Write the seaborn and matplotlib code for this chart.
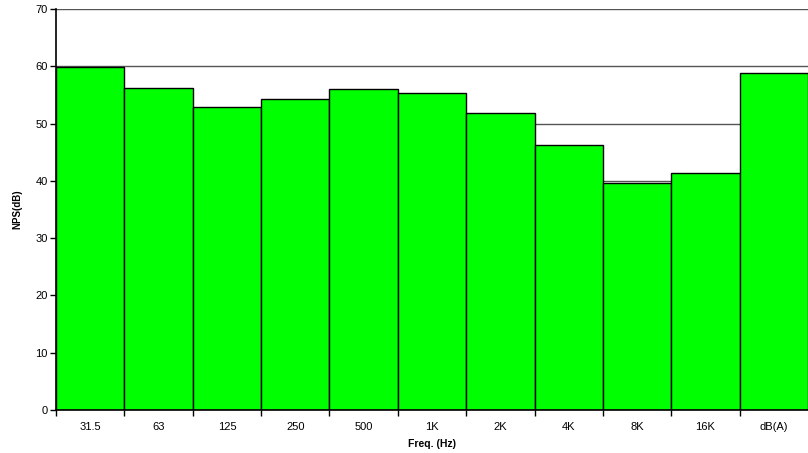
import numpy as np
import pandas as pd
import matplotlib
matplotlib.use("Agg")
import matplotlib.pyplot as plt
import seaborn as sns

# data
bands = ["31.5", "63", "125", "250", "500", "1K", "2K", "4K", "8K", "16K", "dB(A)"]
nps = [59.8, 56.2, 52.9, 54.3, 56.1, 55.4, 51.9, 46.2, 39.7, 41.3, 58.9]

sns.set_style("white")
plt.rcParams["font.family"] = ["Liberation Sans", "DejaVu Sans"]
plt.rcParams["text.color"] = "black"
plt.rcParams["axes.labelcolor"] = "black"
plt.rcParams["xtick.color"] = "black"
plt.rcParams["ytick.color"] = "black"

df = pd.DataFrame({"band": bands, "nps": nps})

fig = plt.figure(figsize=(8.08, 4.53), dpi=100)
ax = fig.add_axes([56 / 808, 43 / 453, 752 / 808, 401 / 453])

# grid behind bars
for y in range(10, 71, 10):
    ax.axhline(y, color="#555555", lw=1.0, zorder=0)

sns.barplot(data=df, x="band", y="nps", color="#00FF00", saturation=1,
            width=1.0, edgecolor="black", linewidth=1.0, ax=ax, zorder=2)

ax.set_ylim(0, 70)
ax.set_xlim(-0.5, len(bands) - 0.5)
ax.set_yticks(range(0, 71, 10))
ax.tick_params(axis="y", labelsize=8, length=4, width=1,
               direction="out", left=True, pad=2)
ax.set_xticks(np.arange(len(bands)))
ax.set_xticklabels(bands)
ax.tick_params(axis="x", which="major", length=0, labelsize=8, pad=9)
ax.set_xticks(np.arange(len(bands)) - 0.5, minor=True)
ax.tick_params(axis="x", which="minor", length=4, width=1,
               direction="out", bottom=True)

for s in ["top", "right"]:
    ax.spines[s].set_visible(False)
for s in ["left", "bottom"]:
    ax.spines[s].set_color("black")
    ax.spines[s].set_linewidth(1.2)

ax.set_xlabel("Freq. (Hz)", fontsize=7.5, fontweight="bold", labelpad=5)
ax.set_ylabel("NPS(dB)", fontsize=7, fontweight="bold", labelpad=9)

fig.savefig("out.png", dpi=100)
